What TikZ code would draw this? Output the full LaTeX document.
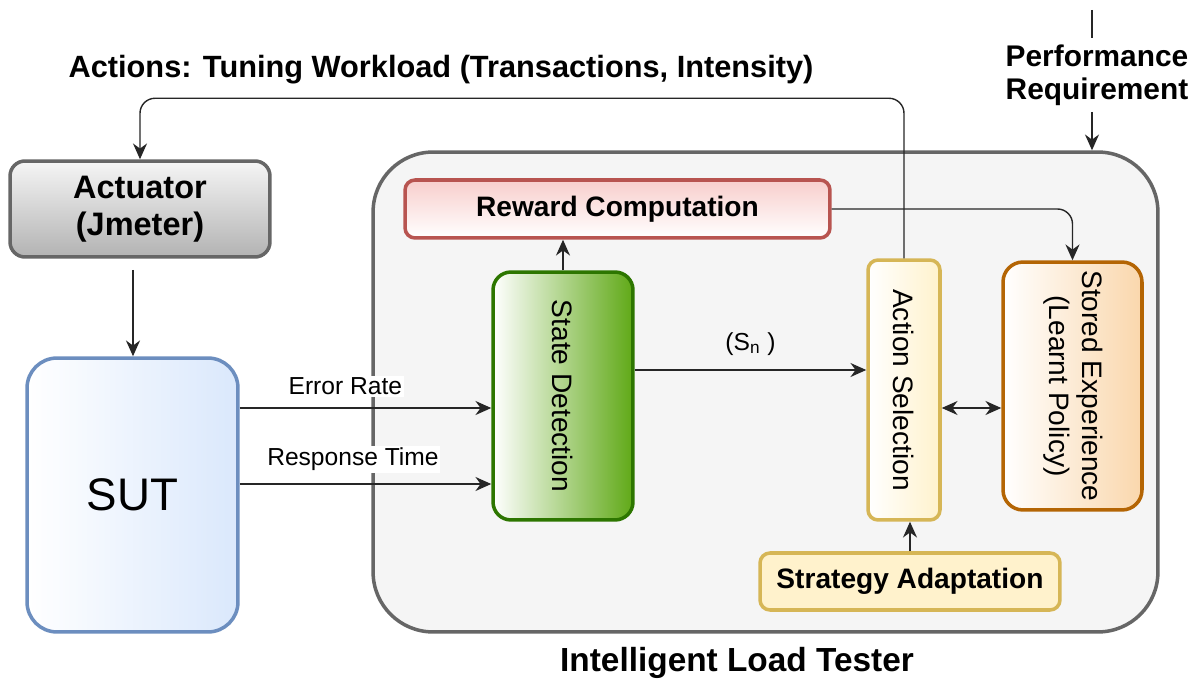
\documentclass[tikz,border=0pt]{standalone}
\usepackage{fontspec}
\setmainfont{Liberation Sans}
\usepackage{graphicx}
\usetikzlibrary{arrows.meta}

\definecolor{edgegray}{HTML}{666666}
\definecolor{suteblue}{HTML}{6C8EBF}
\definecolor{sutfill}{HTML}{DAE8FC}
\definecolor{rewedge}{HTML}{B85450}
\definecolor{rewfill}{HTML}{F8CECC}
\definecolor{stateedge}{HTML}{2D7600}
\definecolor{statefill}{HTML}{60A917}
\definecolor{actedge}{HTML}{D6B656}
\definecolor{actfill}{HTML}{FFF2CC}
\definecolor{storedge}{HTML}{B46504}
\definecolor{storfill}{HTML}{FAD7AC}
\definecolor{lightbg}{HTML}{F5F5F5}

\begin{document}
\begin{tikzpicture}[
    x=0.02cm, y=-0.02cm,
    box/.style={line width=2pt, inner sep=0pt, align=center},
    arr/.style={-{Stealth[length=9pt,width=8pt]}, line width=0.8pt, draw=black!85},
    big/.style={font=\bfseries\fontsize{16}{19}\selectfont},
    mid/.style={font=\fontsize{16}{19}\selectfont},
    small/.style={font=\fontsize{14}{16}\selectfont, fill=white, inner sep=1pt},
  ]

  \useasboundingbox (0,0) rectangle (1201,682);

  % outer frame
  \node[box, draw=edgegray, fill=lightbg, rounded corners=1.2cm,
    minimum width=15.7cm, minimum height=9.6cm] (ilt) at (765.5,392) {};
  \node[font=\bfseries\fontsize{19}{22}\selectfont] (iltlabel) at (737,663) {Intelligent Load Tester};

  % left side
  \node[box, draw=edgegray, top color=lightbg, bottom color=black!30, rounded corners=0.3cm,
    minimum width=5.2cm, minimum height=1.92cm, font=\bfseries\fontsize{18.5}{21}\selectfont]
    (actu) at (140,209) {Actuator\\(Jmeter)};
  \node[box, draw=suteblue, left color=white, right color=sutfill, rounded corners=0.6cm,
    minimum width=4.22cm, minimum height=5.48cm, font=\fontsize{26}{30}\selectfont] (sut) at (132.5,495) {SUT};

  % inside the tester
  \node[box, big, draw=rewedge, top color=rewfill, bottom color=white, rounded corners=0.2cm,
    minimum width=8.5cm, minimum height=1.16cm] (rew) at (617.5,209) {Reward Computation};
  \node[box, mid, draw=stateedge, left color=white, right color=statefill, rounded corners=0.36cm,
    minimum width=2.8cm, minimum height=4.96cm] (state) at (563,396) {\rotatebox{-90}{State Detection}};
  \node[box, mid, draw=actedge, left color=white, right color=actfill, rounded corners=0.2cm,
    minimum width=1.44cm, minimum height=5.2cm] (asel) at (904,390) {\rotatebox{-90}{Action Selection}};
  \node[box, mid, draw=storedge, left color=white, right color=storfill, rounded corners=0.4cm,
    minimum width=2.78cm, minimum height=4.96cm] (stor) at (1072.5,386)
    {\rotatebox{-90}{\begin{tabular}{@{}c@{}}Stored Experience\\(Learnt Policy)\end{tabular}}};
  \node[box, big, draw=actedge, fill=actfill, rounded corners=0.2cm,
    minimum width=6cm, minimum height=1.14cm] (strat) at (910,581.5) {Strategy Adaptation};

  % top labels
  \node[font=\bfseries\fontsize{17.5}{20}\selectfont] (actlabel) at (441,70) {Actions: Tuning Workload (Transactions, Intensity)};
  \node[align=center, font=\bfseries\fontsize{17}{19}\selectfont] (perf) at (1097,75) {Performance\\Requirement};

  % connectors
  \coordinate (actout) at (133,270);
  \draw[arr] (actout) -- (actout |- sut.north);

  \coordinate (er) at ([yshift=1.74cm]sut.east);
  \draw[arr] (er) -- (er -| state.west) node[small, pos=0.42, above=6pt] {Error Rate};
  \coordinate (rt) at ([yshift=0.22cm]sut.east);
  \draw[arr] (rt) -- (rt -| state.west) node[small, pos=0.45, above=6pt] {Response Time};

  \draw[arr] (state.north) -- (state.north |- rew.south);

  \coordinate (sn) at ([yshift=0.52cm]state.east);
  \draw[arr] (sn) -- (sn -| asel.west) node[small, fill=none, midway, above=7pt] {(S\textsubscript{n} )};

  \coordinate (as) at ([yshift=-0.36cm]asel.east);
  \draw[arr, {Stealth[length=9pt,width=8pt]}-{Stealth[length=9pt,width=8pt]}] (as) -- (as -| stor.west);

  \draw[arr] (strat.north) -- (strat.north |- asel.south);

  \draw[arr, rounded corners=0.3cm] (rew.east) -| (stor.north);

  \draw[arr, rounded corners=0.3cm] (asel.north) -- ++(0,-160) -| (actu.north);

  \coordinate (prtop) at (1092,10);
  \draw[line width=0.8pt, draw=black!85] (prtop) -- (prtop |- perf.north);
  \draw[arr] (prtop |- perf.south) -- (prtop |- ilt.north);

\end{tikzpicture}
\end{document}
